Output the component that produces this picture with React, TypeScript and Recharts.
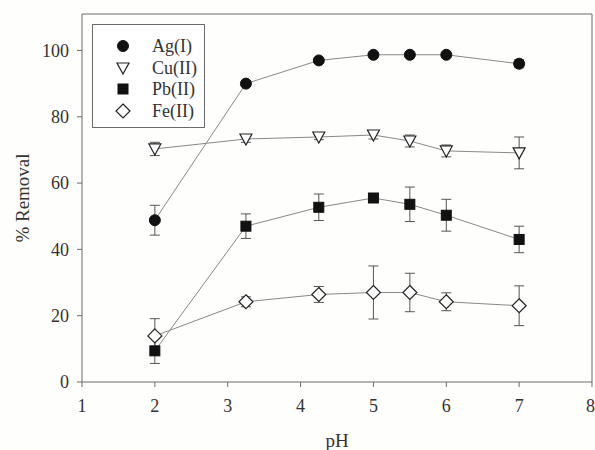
import React from "react";
import {
  LineChart,
  Line,
  XAxis,
  YAxis,
  ErrorBar,
  ReferenceLine,
} from "recharts";

// pH values sampled
const phValues = [2, 3.25, 4.25, 5, 5.5, 6, 7];

// % removal per metal ion, with +/- error
const agValues = [48.8, 90, 97, 98.7, 98.7, 98.7, 96];
const agErr = [4.5, 0.8, 0.6, 0.6, 0.6, 0.6, 1.2];
const cuValues = [70.3, 73.3, 73.9, 74.5, 72.7, 69.7, 69.1];
const cuErr = [2, 1, 0.8, 1.2, 1.8, 1.8, 4.8];
const pbValues = [9.4, 47, 52.7, 55.5, 53.6, 50.3, 43];
const pbErr = [3.8, 3.7, 4, 1, 5.2, 4.8, 4];
const feValues = [13.9, 24.2, 26.4, 27, 27, 24.2, 23];
const feErr = [5.2, 1.5, 2.4, 8, 5.8, 2.7, 6];

const xTicks = [1, 2, 3, 4, 5, 6, 7, 8];
const yTicks = [0, 20, 40, 60, 80, 100];

const seriesNames = ["Ag(I)", "Cu(II)", "Pb(II)", "Fe(II)"];

const chartData = phValues.map((ph, i) => ({
  ph,
  ag: agValues[i],
  agErr: agErr[i],
  cu: cuValues[i],
  cuErr: cuErr[i],
  pb: pbValues[i],
  pbErr: pbErr[i],
  fe: feValues[i],
  feErr: feErr[i],
}));

const FONT = "'Liberation Serif', 'Times New Roman', serif";
const AXIS = "#6b6b6b";
const TEXT = "#333";

type Shape = "circle" | "triangle" | "square" | "diamond";

function Marker({ shape, cx, cy }: { shape: Shape; cx: number; cy: number }) {
  if (shape === "circle") {
    return <circle cx={cx} cy={cy} r={5.5} fill="#111" stroke="#111" />;
  }
  if (shape === "square") {
    return <rect x={cx - 5} y={cy - 5} width={10} height={10} fill="#111" stroke="#111" />;
  }
  if (shape === "triangle") {
    const pts = `${cx - 6},${cy - 5} ${cx + 6},${cy - 5} ${cx},${cy + 6}`;
    return <polygon points={pts} fill="#fff" stroke="#222" strokeWidth={1.2} />;
  }
  const pts = `${cx},${cy - 7} ${cx + 7},${cy} ${cx},${cy + 7} ${cx - 7},${cy}`;
  return <polygon points={pts} fill="#fff" stroke="#222" strokeWidth={1.2} />;
}

const makeDot = (shape: Shape) => (props: any) => (
  <Marker key={`${shape}-${props.index}`} shape={shape} cx={props.cx} cy={props.cy} />
);

const shapes: Shape[] = ["circle", "triangle", "square", "diamond"];

// legend drawn as an overlay so it doesn't steal plot space
function LegendBox() {
  return (
    <div
      style={{
        position: "absolute",
        left: 92,
        top: 24,
        width: 113,
        height: 104,
        border: `1px solid ${AXIS}`,
        background: "#fff",
        boxSizing: "border-box",
        paddingTop: 10,
      }}
    >
      {seriesNames.map((name, i) => (
        <div key={name} style={{ display: "flex", alignItems: "center", height: 21.7 }}>
          <svg width={59} height={20}>
            <Marker shape={shapes[i]} cx={30} cy={10} />
          </svg>
          <span style={{ fontFamily: FONT, fontSize: 18, color: TEXT, lineHeight: "20px" }}>{name}</span>
        </div>
      ))}
    </div>
  );
}

export default function App() {
  return (
    <div style={{ position: "absolute", left: 0, top: 0, width: 595, height: 450, background: "#fefefc" }}>
      <LineChart
        width={595}
        height={450}
        data={chartData}
        margin={{ top: 14, right: 3, bottom: 0, left: 0 }}
      >
        <XAxis
          dataKey="ph"
          type="number"
          domain={[1, 8]}
          ticks={xTicks}
          height={68}
          stroke={AXIS}
          tickSize={5}
          tickMargin={12}
          tick={{ fontSize: 18, fill: TEXT, fontFamily: FONT }}
          label={{ value: "pH", position: "insideBottom", offset: 3, fontSize: 19, fill: TEXT, fontFamily: FONT }}
        />
        <YAxis
          type="number"
          domain={[0, 111]}
          ticks={yTicks}
          width={82}
          stroke={AXIS}
          tickSize={5}
          tickMargin={8}
          tick={{ fontSize: 18, fill: TEXT, fontFamily: FONT }}
          label={{
            value: "% Removal",
            angle: -90,
            position: "insideLeft",
            offset: 22,
            style: { textAnchor: "middle", fontSize: 19, fill: TEXT, fontFamily: FONT },
          }}
        />
        <ReferenceLine y={111} stroke={AXIS} />
        <ReferenceLine x={8} stroke={AXIS} />
        <Line dataKey="ag" stroke="#888" strokeWidth={1} dot={makeDot("circle")} activeDot={false} isAnimationActive={false}>
          <ErrorBar dataKey="agErr" width={5} stroke="#555" strokeWidth={1} direction="y" />
        </Line>
        <Line dataKey="cu" stroke="#888" strokeWidth={1} dot={makeDot("triangle")} activeDot={false} isAnimationActive={false}>
          <ErrorBar dataKey="cuErr" width={5} stroke="#555" strokeWidth={1} direction="y" />
        </Line>
        <Line dataKey="pb" stroke="#888" strokeWidth={1} dot={makeDot("square")} activeDot={false} isAnimationActive={false}>
          <ErrorBar dataKey="pbErr" width={5} stroke="#555" strokeWidth={1} direction="y" />
        </Line>
        <Line dataKey="fe" stroke="#888" strokeWidth={1} dot={makeDot("diamond")} activeDot={false} isAnimationActive={false}>
          <ErrorBar dataKey="feErr" width={5} stroke="#555" strokeWidth={1} direction="y" />
        </Line>
      </LineChart>
      <LegendBox />
    </div>
  );
}
